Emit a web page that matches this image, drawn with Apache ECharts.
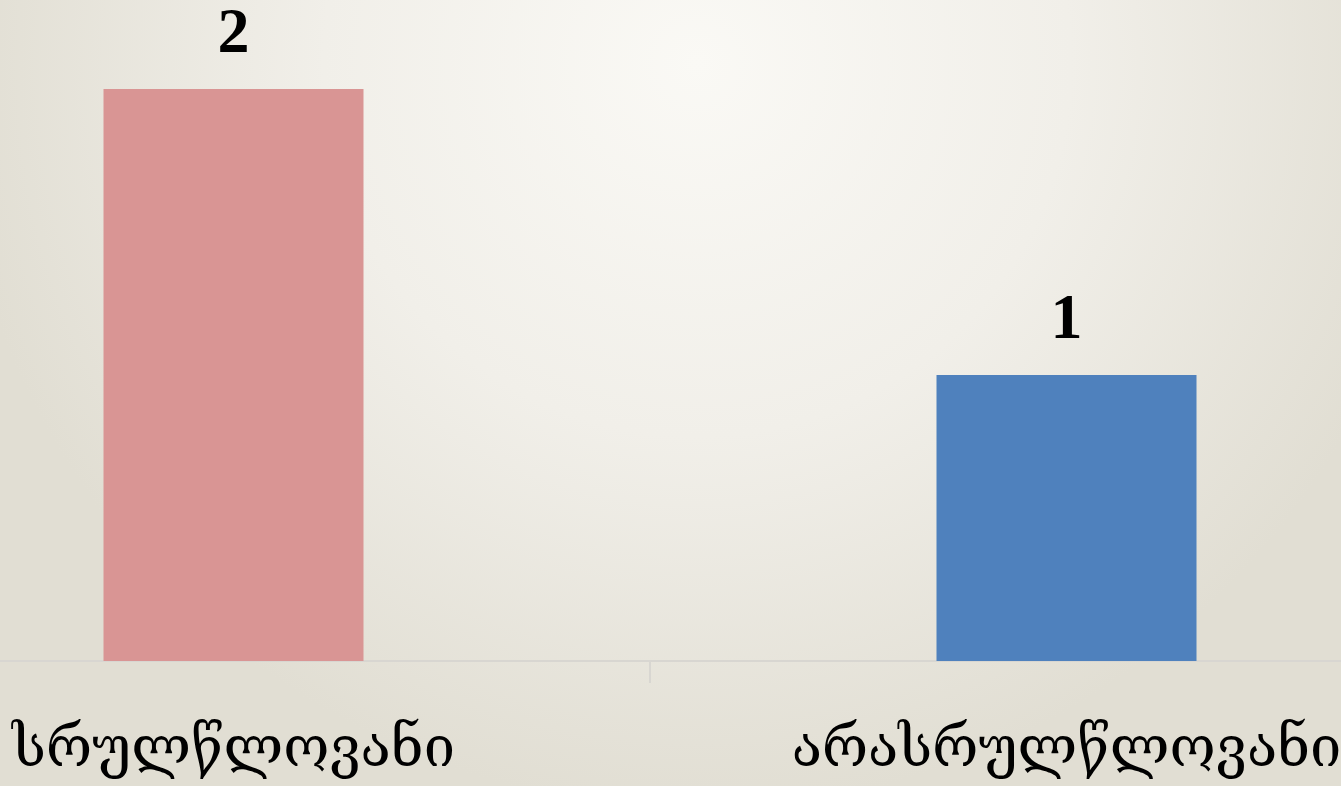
<!DOCTYPE html>
<html>
<head>
<meta charset="utf-8">
<script src="https://cdn.jsdelivr.net/npm/echarts@6/dist/echarts.min.js"></script>
<style>
  html, body { margin: 0; padding: 0; }
  #main { width: 1341px; height: 786px; }
</style>
</head>
<body>
<div id="main"></div>
<script>
var categories = ['სრულწლოვანი', 'არასრულწლოვანი'];
var values = [2, 1];
var barColors = ['#D99594', '#4F81BD'];

var myChart = echarts.init(document.getElementById('main'));

var option = {
    backgroundColor: {
        type: 'radial',
        x: 0.52, y: 0.08, r: 0.95,
        colorStops: [
            { offset: 0, color: '#faf9f5' },
            { offset: 0.5, color: '#f1efe9' },
            { offset: 1, color: '#e1ded3' }
        ]
    },
    animation: false,
    grid: {
        left: -183,
        width: 1666,
        top: 89,
        bottom: 125,
        outerBoundsMode: 'none'
    },
    xAxis: {
        type: 'category',
        data: categories,
        axisLine: { lineStyle: { color: '#d8d6d1', width: 2 } },
        axisTick: { show: true, length: 22, lineStyle: { color: '#d8d6d1', width: 2 } },
        axisLabel: {
            color: '#000',
            fontSize: 56,
            fontFamily: 'DejaVu Serif, DejaVu Sans',
            margin: 62
        }
    },
    yAxis: {
        type: 'value',
        min: 0,
        max: 2,
        show: false,
        splitLine: { show: false }
    },
    series: [{
        type: 'bar',
        barWidth: 260,
        data: values.map(function (v, i) {
            return { value: v, itemStyle: { color: barColors[i] } };
        }),
        label: {
            show: true,
            position: 'top',
            distance: 22,
            color: '#000',
            fontSize: 64,
            fontWeight: 'bold',
            fontFamily: 'Liberation Serif, DejaVu Serif'
        }
    }]
};
myChart.setOption(option);
</script>
</body>
</html>
